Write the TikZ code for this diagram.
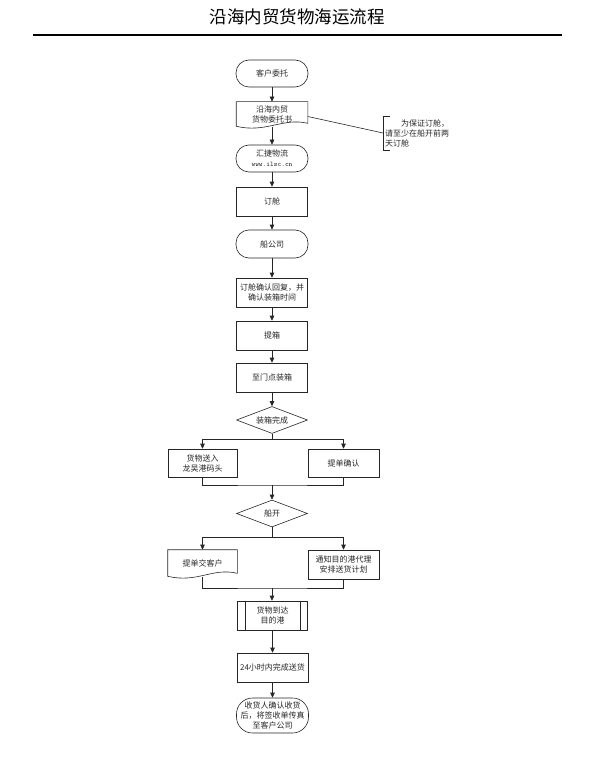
\documentclass[tikz,border=0pt]{standalone}
\usepackage{fontspec}
\setmainfont{Noto Sans CJK SC}
\usetikzlibrary{arrows.meta,shapes.geometric,calc}
\newcommand\docwave[1]{%
  \draw[ln] (#1.north west) -- (#1.north east) -- ($(#1.south east)+(0,-4)$)
    .. controls ($(#1.south east)+(-25,-10)$) and ($(#1.south west)+(30,6)$) ..
    ($(#1.south west)+(0,-1)$) -- cycle;}
\begin{document}
\begin{tikzpicture}[x=1pt,y=-1pt,
  base/.style={draw=black!85, line width=0.6pt, font=\fontsize{8}{10}\selectfont, align=center, inner sep=0pt, text=black!85},
  term/.style={base, rectangle, rounded corners=13pt, minimum width=72pt, minimum height=27pt},
  proc/.style={base, rectangle, minimum width=71pt, minimum height=29pt},
  dec/.style={base, diamond, aspect=2.6, minimum width=71pt, minimum height=27pt},
  docbox/.style={base, draw=none, rectangle, minimum width=71pt, minimum height=25pt},
  arr/.style={draw=black!85, line width=0.6pt, -{Triangle[length=5pt,width=4.5pt]}},
  ln/.style={draw=black!85, line width=0.6pt},
]
\useasboundingbox (0,0) rectangle (595,770);
% title
\node[font=\fontsize{17.5}{20}\selectfont, inner sep=0pt] (title) at (297,17) {沿海内贸货物海运流程};
\coordinate (tl) at (33,35);
\coordinate (tr) at (562,35);
\draw[line width=2pt] (tl) -- (tr);

% main column
\node[term] (n1) at (272,73.5) {客户委托};
\node[docbox] (n2) at (272,114.5) {沿海内贸\\货物委托书};
\docwave{n2}
\node[term] (n3) at (272,158.5) {汇捷物流\\{\ttfamily\fontsize{7}{10}\selectfont www.ilsc.cn}};
\node[proc] (n4) at (272,201.5) {订舱};
\node[term, minimum height=28pt] (n5) at (272,244) {船公司};
\node[proc] (n6) at (272,292.5) {订舱确认回复，并\\确认装箱时间};
\node[proc] (n7) at (272,335.5) {提箱};
\node[proc] (n8) at (272,377.5) {至门点装箱};
\node[dec] (d1) at (272,420) {装箱完成};
\node[proc, minimum width=69pt, minimum height=28pt] (l1) at (202.5,463) {货物送入\\龙吴港码头};
\node[proc, minimum height=28pt] (r1) at (343.5,463) {提单确认};
\node[dec] (d2) at (272,513.5) {船开};
\node[docbox, minimum width=69pt, minimum height=27pt] (l2) at (202.5,563.5) {提单交客户};
\docwave{l2}
\node[proc] (r2) at (343.5,564.5) {通知目的港代理\\安排送货计划};
\node[proc, minimum width=70pt] (p1) at (272.5,615.5) {货物到达\\目的港};
\draw[ln] ($(p1.north west)+(8,0)$) -- ($(p1.south west)+(8,0)$);
\draw[ln] ($(p1.north east)+(-8,0)$) -- ($(p1.south east)+(-8,0)$);
\node[proc] (q1) at (272.5,667.5) {24小时内完成送货};
\node[term, rounded corners=16pt, minimum height=35pt] (f1) at (272.5,715.5) {收货人确认收货\\后，将签收单传真\\至客户公司};

% junctions
\coordinate (b1) at (272,439);
\coordinate (m1) at (272,485);
\coordinate (b2) at (272,537);
\coordinate (m2) at (272,588);

% connectors
\draw[arr] (n1) -- (n2);
\draw[arr] (n2) -- (n3);
\draw[arr] (n3) -- (n4);
\draw[arr] (n4) -- (n5);
\draw[arr] (n5) -- (n6);
\draw[arr] (n6) -- (n7);
\draw[arr] (n7) -- (n8);
\draw[arr] (n8) -- (d1);
\draw[ln] (d1.south) -- (b1);
\draw[arr] (b1) -| (l1.north);
\draw[arr] (b1) -| (r1.north);
\draw[ln] (l1.south) |- (m1) -| (r1.south);
\draw[arr] (m1) -- (d2.north);
\draw[ln] (d2.south) -- (b2);
\draw[arr] (b2) -| (l2.north);
\draw[arr] (b2) -| (r2.north);
\draw[ln] (l2.south) |- (m2) -| (r2.south);
\draw[arr] (m2) -- (m2 |- p1.north);
\draw[arr] (p1) -- (q1);
\draw[arr] (q1) -- (f1);

% annotation
\coordinate (bt) at (383,116);
\coordinate (bb) at (383,150);
\coordinate (bm) at (383,133);
\draw[ln] ($(bt)+(7,0)$) -- (bt) -- (bb) -- ($(bb)+(7,0)$);
\draw[ln] ($(n2.east)+(0,2)$) -- (bm);
\node[font=\fontsize{8}{10}\selectfont, text=black!85, align=left, text width=68pt, inner sep=0pt, anchor=west] (an) at (385,133) {\hspace*{2em}为保证订舱，\\请至少在船开前两\\天订舱};
\end{tikzpicture}
\end{document}
